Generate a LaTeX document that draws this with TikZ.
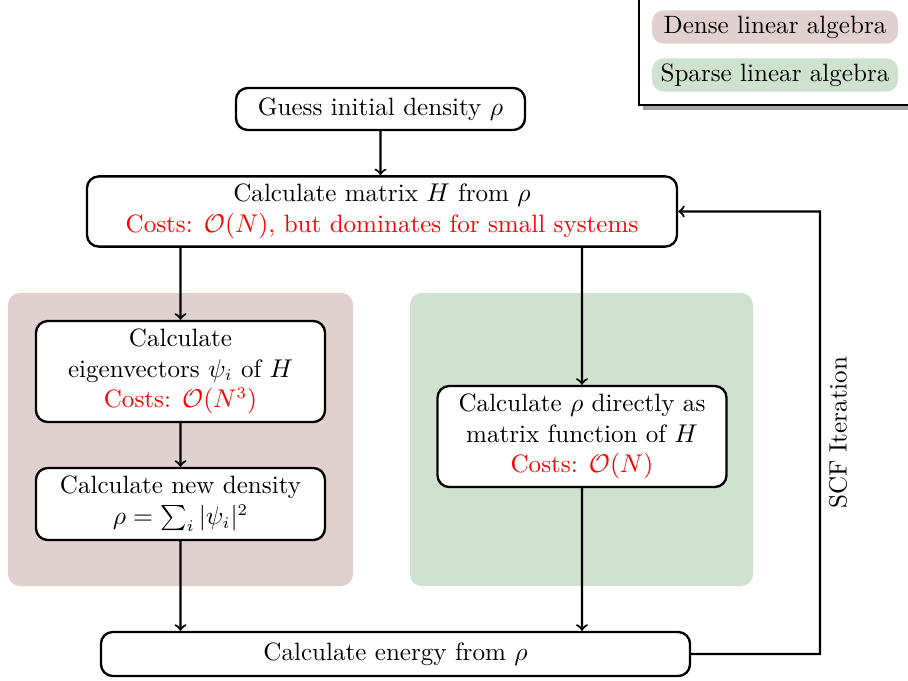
\documentclass[tikz,border=0pt]{standalone}
\usepackage{amssymb}
\usepackage{amsmath}
\usepackage{tikz}

\definecolor{densecol}{RGB}{224,208,208}
\definecolor{sparsecol}{RGB}{207,226,207}

\begin{document}
\begin{tikzpicture}[scale=0.15]
				\tikzstyle{every node}+=[align=center, font=\fontsize{10.7}{13}\selectfont]
				\tikzstyle{stepbox}=[draw=black, line width=1pt, fill=white, rounded corners=5pt, minimum width=4.335cm]
				\tikzstyle{widebox}=[stepbox, minimum width=8.85cm]
				\tikzstyle{flow}=[line width=0.9pt, ->]
				\tikzstyle{legitem}=[rounded corners=5pt, minimum width=3.69cm, minimum height=0.5cm, inner sep=1pt]
				\useasboundingbox (0,0) rectangle (90.8,-68.0);
				% backgrounds
				\fill [densecol, rounded corners=5pt] (0.8,-29.3) rectangle (35.3,-58.6);
				\fill [sparsecol, rounded corners=5pt] (41.0,-29.3) rectangle (75.3,-58.6);
				% legend
				\fill [black!35] (64.3,-11.0) rectangle (96.0,3.0);
				\draw [line width=1pt, fill=white] (63.9,-10.5) rectangle (95.0,3.0);
				\node [legitem, fill=densecol] (dense) at (77.5,-2.7) {Dense linear algebra};
				\node [legitem, fill=sparsecol] (sparse) at (77.5,-7.5) {Sparse linear algebra};
				% steps
				\node [stepbox, minimum height=0.63cm] (guess) at (38.05,-10.9) {Guess initial density $\rho$};
				\node [widebox, minimum height=1.035cm] (hmat) at (38.2,-21.15) {Calculate matrix $H$ from $\rho$\\ \textcolor{red}{Costs: $\mathcal{O}(N)$, but dominates for small systems}};
				\node [stepbox, minimum height=1.515cm] (eigen) at (18.05,-37.15) {Calculate\\ eigenvectors $\psi_i$ of $H$\\ \textcolor{red}{Costs: $\mathcal{O}(N^3)$}};
				\node [stepbox, minimum height=1.08cm] (newrho) at (18.05,-50.4) {Calculate new density\\ $\rho = \sum_i |\psi_i|^2$};
				\node [stepbox, minimum height=1.515cm] (direct) at (58.2,-43.65) {Calculate $\rho$ directly as\\ matrix function of $H$\\ \textcolor{red}{Costs: $\mathcal{O}(N)$}};
				\node [widebox, minimum width=8.835cm, minimum height=0.66cm] (energy) at (39.55,-65.4) {Calculate energy from $\rho$};
				\coordinate (loop) at (82.0,-65.4);
				% connectors
				\draw [flow] (guess) -- (guess |- hmat.north);
				\draw [flow] (eigen.north |- hmat.south) -- (eigen);
				\draw [flow] (direct.north |- hmat.south) -- (direct);
				\draw [flow] (eigen) -- (newrho);
				\draw [flow] (newrho) -- (newrho.south |- energy.north);
				\draw [flow] (direct) -- (direct.south |- energy.north);
				\draw [flow] (energy) -- (loop) -- (loop |- hmat.east) node [midway, below, rotate=90] (scf) {SCF Iteration} -- (hmat);
			\end{tikzpicture}
\end{document}
